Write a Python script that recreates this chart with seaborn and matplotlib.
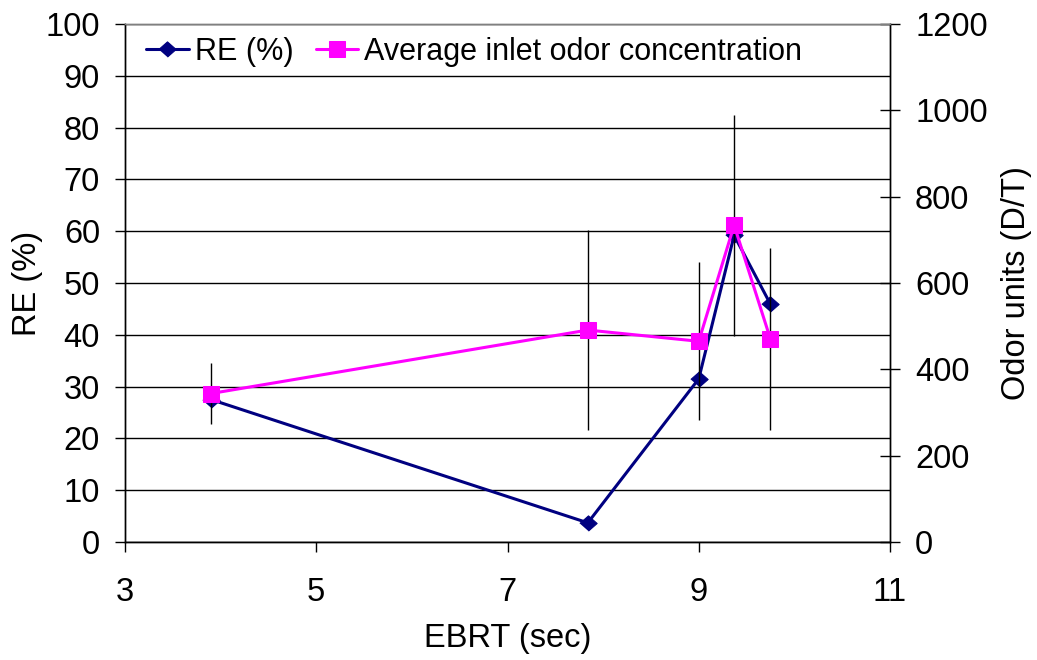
import matplotlib
matplotlib.use("Agg")
import matplotlib.pyplot as plt
import seaborn as sns
import pandas as pd

# ---- data ----
ebrt = [3.9, 7.84, 9.0, 9.37, 9.75]
re_pct = [27.5, 3.7, 31.5, 59.2, 45.9]
odor = [344, 491, 465, 734, 470]
odor_err = [70, 232, 183, 256, 211]
x_ticks = [3, 5, 7, 9, 11]
y_ticks = list(range(0, 101, 10))
y2_ticks = list(range(0, 1201, 200))

sns.set_theme(style="white")
plt.rcParams['font.family'] = ['Liberation Sans', 'DejaVu Sans']
plt.rcParams['text.color'] = 'black'
plt.rcParams['axes.labelcolor'] = 'black'
plt.rcParams['xtick.color'] = 'black'
plt.rcParams['ytick.color'] = 'black'

df = pd.DataFrame({"EBRT": ebrt, "RE": re_pct, "Odor": odor, "Err": odor_err})

fig = plt.figure(figsize=(10.37, 6.6), dpi=100)
ax = fig.add_axes([125/1037, 1-542/660, (890-125)/1037, (542-24)/660])
ax2 = ax.twinx()
ax2.patch.set_visible(False)

navy = "#000080"
magenta = "#FF00FF"
diamond = [(-1, 0), (0, 0.88), (1, 0), (0, -0.88)]

sns.lineplot(data=df, x="EBRT", y="RE", ax=ax, color=navy, linewidth=2.2,
             marker=diamond, markersize=12.5, markeredgecolor=navy,
             markerfacecolor=navy, label="RE (%)", sort=False)

ax2.errorbar(df["EBRT"], df["Odor"], yerr=df["Err"], fmt="none",
             ecolor="black", elinewidth=1.0, capsize=0, zorder=1)
sns.lineplot(data=df, x="EBRT", y="Odor", ax=ax2, color=magenta, linewidth=2.2,
             marker="s", markersize=12, markeredgecolor=magenta,
             markerfacecolor=magenta, label="Average inlet odor concentration",
             sort=False, zorder=3)

ax.set_xlim(3, 11)
ax.set_ylim(0, 100)
ax2.set_ylim(0, 1200)
ax.set_xticks(x_ticks)
ax.set_yticks(y_ticks)
ax2.set_yticks(y2_ticks)

ax.yaxis.grid(True, color="black", linewidth=1.0)
ax.xaxis.grid(False)
ax2.grid(False)

for a in (ax, ax2):
    for s in a.spines.values():
        s.set_color("black")
        s.set_linewidth(1.0)
ax.spines["top"].set_color("#808080")
ax2.spines["top"].set_color("#808080")

ax.tick_params(axis="y", which="major", direction="out", length=7, width=1,
               color="black", labelcolor="black", labelsize=23.5, pad=11, left=True)
ax.tick_params(axis="x", which="major", direction="out", length=7, width=1,
               color="black", labelcolor="black", labelsize=23.5, pad=18, bottom=True)
ax2.tick_params(axis="y", which="major", direction="inout", length=14, width=1,
                color="black", labelcolor="black", labelsize=23.5, pad=11, right=True)

ax.set_xlabel("EBRT (sec)", fontsize=23.5, va="center")
ax.xaxis.set_label_coords(0.5, (542-638)/518)
ax.set_ylabel("RE (%)", fontsize=23.5, va="center")
ax.yaxis.set_label_coords((28-125)/765, 0.5)
ax2.set_ylabel("Odor units (D/T)", fontsize=23.5, va="center")
ax2.yaxis.set_label_coords((1016-125)/765, 0.5)

h1, l1 = ax.get_legend_handles_labels()
h2, l2 = ax2.get_legend_handles_labels()
if ax.get_legend():
    ax.get_legend().remove()
if ax2.get_legend():
    ax2.get_legend().remove()
fig.legend(h1 + h2, l1 + l2, loc="center left",
           bbox_to_anchor=(146/1037, 1-52/660), bbox_transform=fig.transFigure,
           ncol=2, frameon=False, fontsize=22, borderpad=0, borderaxespad=0,
           handlelength=1.4, handletextpad=0.2, columnspacing=0.72)

fig.savefig("out.png", dpi=100)
